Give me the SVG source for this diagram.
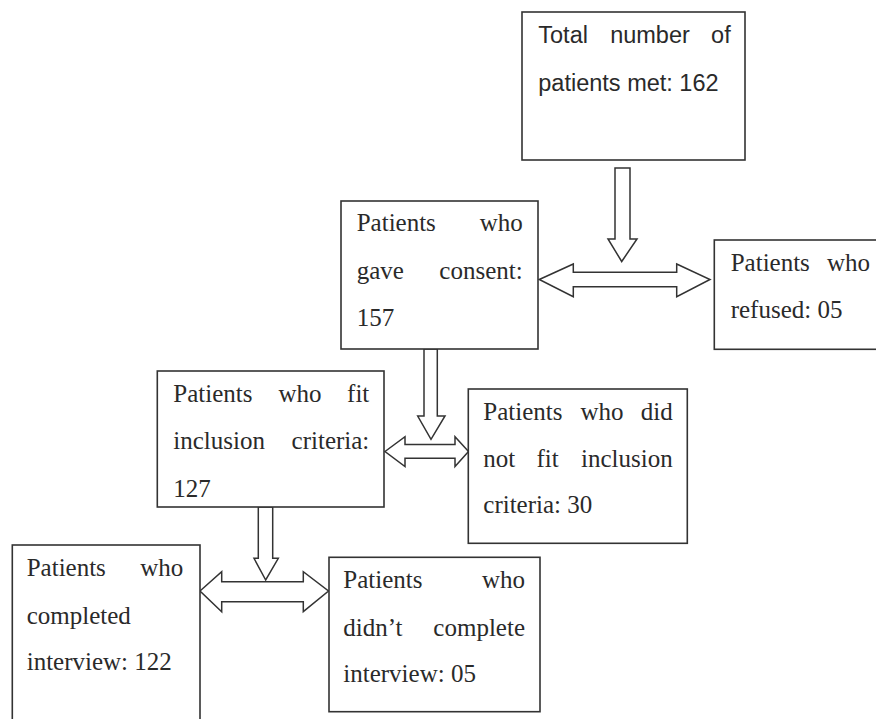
<svg xmlns="http://www.w3.org/2000/svg" width="876" height="719" viewBox="0 0 876 719">
<style>
.box{fill:#fff;stroke:#333;stroke-width:1.6}
.arr{fill:#fff;stroke:#333;stroke-width:1.5;stroke-linejoin:miter}
.s{font-family:"Liberation Sans",Arial,sans-serif;font-size:23.5px;fill:#2a2a2a}
.t{font-family:"Liberation Serif","Times New Roman",serif;font-size:25px;fill:#2a2a2a}
.e{text-anchor:end}
.m{text-anchor:middle}
</style>
<rect width="876" height="719" fill="#fff"/>
<g id="connectors">
<polygon class="arr" points="615,168 630,168 630,239 637,239 621.7,261.5 608,239 615,239"/>
<polygon class="arr" points="539.3,279.5 573.3,264 573.3,272.3 676.7,272.3 676.7,264 710,279.5 676.7,296.7 676.7,286.7 573.3,286.7 573.3,296.7"/>
<polygon class="arr" points="424,349 437.3,349 437.3,416 445,416 431,439.3 417.7,416 424,416"/>
<polygon class="arr" points="385,451.5 405,436.7 405,444.5 455,444.5 455,436.7 468.5,451.5 455,466.5 455,458.3 405,458.3 405,466.5"/>
<polygon class="arr" points="258.3,507 272.7,507 272.7,558.3 278.3,558.3 265.7,580 254,558.3 258.3,558.3"/>
<polygon class="arr" points="200,591 221.7,571.7 221.7,581.7 303.3,581.7 303.3,571.7 328.5,591 303.3,611.7 303.3,601.7 221.7,601.7 221.7,611.7"/>
</g>
<g id="n1">
<rect class="box" x="522" y="12" width="223" height="148"/>
<text class="s" x="538.3" y="43">Total</text>
<text class="s m" x="650" y="43">number</text>
<text class="s e" x="730.7" y="43">of</text>
<text class="s" x="538.3" y="91">patients met: 162</text>
</g>
<g id="n2">
<rect class="box" x="341" y="201" width="197" height="148"/>
<text class="t" x="356.7" y="231">Patients</text>
<text class="t e" x="522.7" y="231">who</text>
<text class="t" x="356.7" y="279">gave</text>
<text class="t e" x="522.7" y="279">consent:</text>
<text class="t" x="356.7" y="326">157</text>
</g>
<g id="n3">
<rect class="box" x="714.3" y="240" width="180" height="109.3"/>
<text class="t" x="730.7" y="271">Patients</text>
<text class="t e" x="870" y="271">who</text>
<text class="t" x="730.7" y="318.3">refused: 05</text>
</g>
<g id="n4">
<rect class="box" x="157.3" y="371" width="226.7" height="136"/>
<text class="t" x="173.3" y="402.3">Patients</text>
<text class="t m" x="300" y="402.3">who</text>
<text class="t e" x="369.3" y="402.3">fit</text>
<text class="t" x="173.3" y="449.3">inclusion</text>
<text class="t e" x="369.3" y="449.3">criteria:</text>
<text class="t" x="173.3" y="496.7">127</text>
</g>
<g id="n5">
<rect class="box" x="468.3" y="389" width="219" height="154.3"/>
<text class="t" x="483.3" y="420">Patients</text>
<text class="t m" x="602" y="420">who</text>
<text class="t e" x="672.7" y="420">did</text>
<text class="t" x="483.3" y="466.7">not</text>
<text class="t m" x="547.5" y="466.7">fit</text>
<text class="t e" x="672.7" y="466.7">inclusion</text>
<text class="t" x="483.3" y="513.3">criteria: 30</text>
</g>
<g id="n6">
<rect class="box" x="12.3" y="545" width="187.7" height="200"/>
<text class="t" x="26.7" y="576">Patients</text>
<text class="t e" x="183.3" y="576">who</text>
<text class="t" x="26.7" y="624">completed</text>
<text class="t" x="26.7" y="670">interview: 122</text>
</g>
<g id="n7">
<rect class="box" x="329" y="557.3" width="211" height="154.4"/>
<text class="t" x="343.3" y="588.3">Patients</text>
<text class="t e" x="525" y="588.3">who</text>
<text class="t" x="343.3" y="636">didn’t</text>
<text class="t e" x="525" y="636">complete</text>
<text class="t" x="343.3" y="681.7">interview: 05</text>
</g>
</svg>
